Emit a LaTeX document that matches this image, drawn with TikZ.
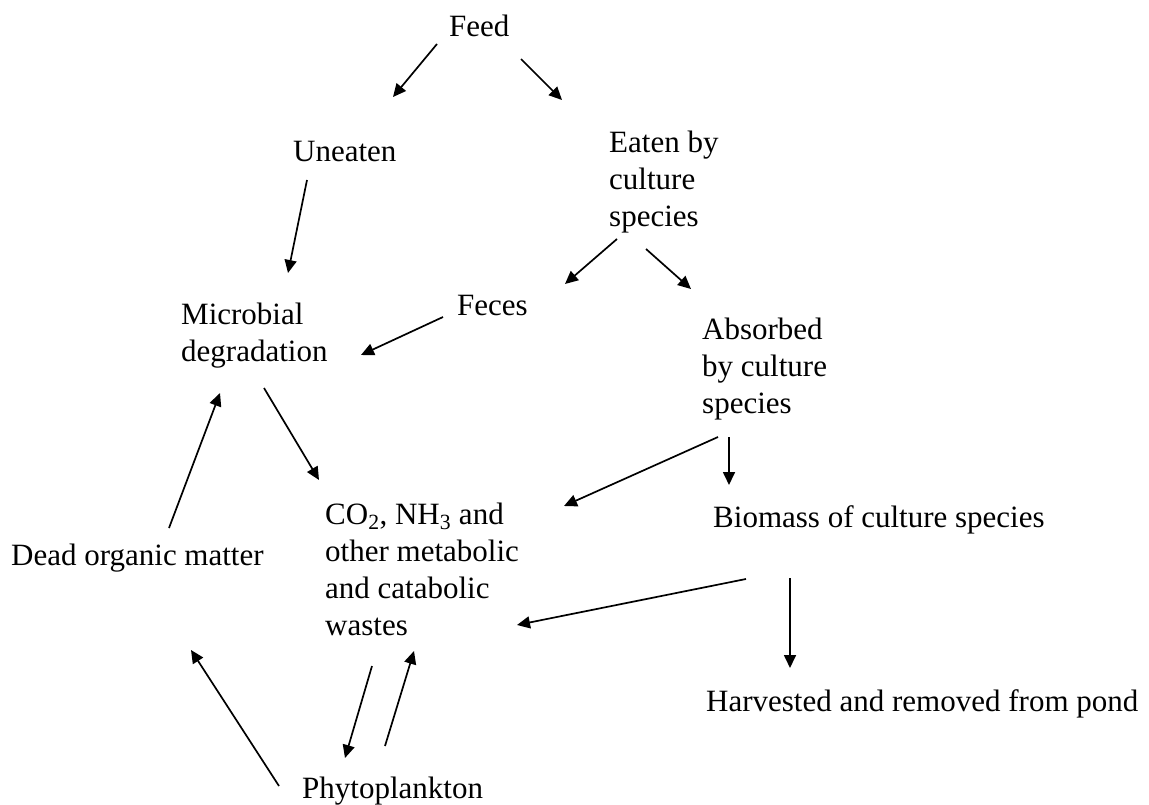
\documentclass[tikz,border=0pt]{standalone}
\usepackage{fontspec}
\setmainfont{Liberation Serif}
\usetikzlibrary{arrows.meta, calc}

\begin{document}
\begin{tikzpicture}[x=1pt, y=-1pt,
  txt/.style={anchor=base west, inner sep=0pt, align=left, font=\fontsize{31}{37}\selectfont},
  arr/.style={-{Triangle[length=13pt,width=12pt]}, line width=1.7pt}]
\useasboundingbox (0,0) rectangle (1149,805);
% feed and where it goes (base = last line)
\node[txt] (feed) at (449,37) {Feed};
\node[txt] (uneaten) at (293,162) {Uneaten};
\node[txt] (eaten) at (609,227) {Eaten by\\culture\\species};
\node[txt] (microbial) at (181,361) {Microbial\\degradation};
\node[txt] (feces) at (457,316) {Feces};
\node[txt] (absorbed) at (702,413) {Absorbed\\by culture\\species};
% wastes, biomass, plankton
\node[txt] (wastes) at (325,635) {CO\textsubscript{2}, NH\textsubscript{3} and\\other metabolic\\and catabolic\\wastes};
\node[txt] (dead) at (11,565) {Dead organic matter};
\node[txt] (biomass) at (713,527) {Biomass of culture species};
\node[txt] (harvested) at (706,711) {Harvested and removed from pond};
\node[txt] (phyto) at (302,798) {Phytoplankton};
% arrows
\draw[arr] ($(feed.base west)+(-12,7)$) -- ($(uneaten.base west)+(100,-65)$);
\draw[arr] ($(feed.base west)+(72,22)$) -- ($(eaten.base west)+(-47,-127)$);
\draw[arr] ($(uneaten.base west)+(14,18)$) -- ($(microbial.base west)+(107,-88)$);
\draw[arr] ($(eaten.base west)+(8,12)$) -- ($(feces.base west)+(108,-32)$);
\draw[arr] ($(eaten.base west)+(37,22)$) -- ($(absorbed.base west)+(-11,-124)$);
\draw[arr] ($(feces.base west)+(-14,1)$) -- ($(microbial.base west)+(180,-6)$);
\draw[arr] ($(microbial.base west)+(83,27)$) -- ($(wastes.base west)+(-6,-155)$);
\draw[arr] ($(dead.base west)+(158,-37)$) -- ($(microbial.base west)+(39,32)$);
\draw[arr] ($(absorbed.base west)+(27,24)$) -- ($(biomass.base west)+(16,-42)$);
\draw[arr] ($(absorbed.base west)+(16,24)$) -- ($(wastes.base west)+(239,-129)$);
\draw[arr] ($(biomass.base west)+(33,52)$) -- ($(wastes.base west)+(192,-10)$);
\draw[arr] ($(biomass.base west)+(77,51)$) -- ($(harvested.base west)+(84,-43)$);
\draw[arr] ($(wastes.base west)+(47,31)$) -- ($(phyto.base west)+(43,-40)$);
\draw[arr] ($(phyto.base west)+(83,-52)$) -- ($(wastes.base west)+(89,16)$);
\draw[arr] ($(phyto.base west)+(-23,-12)$) -- ($(dead.base west)+(180,85)$);
\end{tikzpicture}
\end{document}
